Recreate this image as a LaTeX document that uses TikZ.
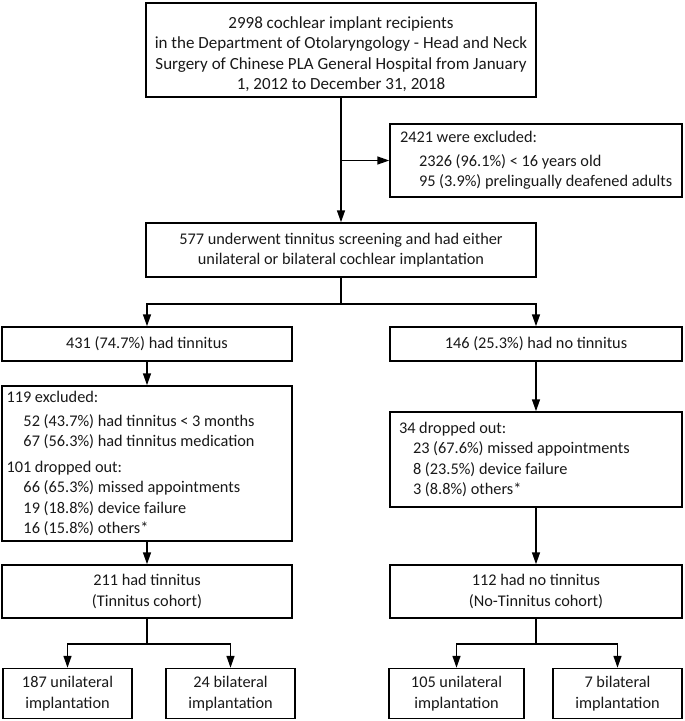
\documentclass[tikz,border=0pt]{standalone}
\usepackage{fontspec}
\setmainfont{Carlito}
\usetikzlibrary{arrows.meta,calc}
\newcommand\myind[1]{\hspace*{#1}}
\begin{document}
\begin{tikzpicture}[x=1pt,y=-1pt,
  font=\fontsize{16.3}{20.5}\selectfont,
  box/.style={draw=black, line width=1.5pt, inner sep=0pt, align=center, text=black!90},
  lbox/.style={box, align=flush left},
  plain/.style={inner sep=0pt, align=center, text=black!90},
  ln/.style={line width=1.5pt, draw=black},
  arr/.style={ln, -{Triangle[length=12pt,width=8pt]}}]
\useasboundingbox[fill=white] (0,0) rectangle (685,721);

\node[box, minimum width=390pt, minimum height=94pt] (top) at (341,50) {};
\node[plain, font=\fontsize{17}{20.5}\selectfont] (toptext) at ($(top.center)+(0,4)$)
  {2998 cochlear implant recipients\\
   in the Department of Otolaryngology - Head and Neck\\
   Surgery of Chinese PLA General Hospital from January\\
   1, 2012 to December 31, 2018};

\node[lbox, minimum width=292pt, minimum height=73pt, text width=272pt, inner xsep=10pt] (excl) at (536,160.5)
  {2421 were excluded:\\[3pt]
   \myind{19pt}\mbox{2326 (96.1\%) < 16 years old}\\
   \myind{19pt}\mbox{95 (3.9\%) prelingually deafened adults}};

\node[box, minimum width=390pt, minimum height=54pt] (s577) at (341,250)
  {577 underwent tinnitus screening and had either\\
   unilateral or bilateral cochlear implantation};

\node[box, minimum width=290pt, minimum height=34pt] (t431) at (147,344)
  {431 (74.7\%) had tinnitus};
\node[box, minimum width=292pt, minimum height=34pt] (n146) at (536,344)
  {146 (25.3\%) had no tinnitus};

\node[lbox, minimum width=290pt, minimum height=155pt, text width=281pt, inner xsep=4.5pt] (ex119) at (147,463.5)
  {119 excluded:\\[3pt]
   \myind{17pt}\mbox{52 (43.7\%) had tinnitus < 3 months}\\
   \myind{17pt}\mbox{67 (56.3\%) had tinnitus medication}\\[5pt]
   101 dropped out:\\
   \myind{17pt}\mbox{66 (65.3\%) missed appointments}\\
   \myind{17pt}\mbox{19 (18.8\%) device failure}\\
   \myind{17pt}\mbox{16 (15.8\%) others*}};

\node[lbox, minimum width=292pt, minimum height=95pt, text width=274pt, inner xsep=9pt] (dr34) at (536,459.5)
  {34 dropped out:\\
   \myind{14pt}\mbox{23 (67.6\%) missed appointments}\\
   \myind{14pt}\mbox{8 (23.5\%) device failure}\\
   \myind{14pt}\mbox{3 (8.8\%) others*}};

\node[box, minimum width=290pt, minimum height=53pt] (c211) at (147,591.5)
  {211 had tinnitus\\(Tinnitus cohort)};
\node[box, minimum width=292pt, minimum height=53pt] (c112) at (536,591.5)
  {112 had no tinnitus\\(No-Tinnitus cohort)};

\node[box, minimum width=129pt, minimum height=50pt] (b187) at (67.5,693.5)
  {187 unilateral\\implantation};
\node[box, minimum width=129pt, minimum height=50pt] (b24) at (230.5,693.5)
  {24 bilateral\\implantation};
\node[box, minimum width=135pt, minimum height=50pt] (b105) at (456.5,693.5)
  {105 unilateral\\implantation};
\node[box, minimum width=129pt, minimum height=50pt] (b7) at (617.5,693.5)
  {7 bilateral\\implantation};

% connectors
\draw[arr] (top.south) -- (s577.north);
\coordinate (j1) at (top.south |- excl.west);
\draw[arr] (j1) -- (excl.west);

\coordinate (sp1) at ($(s577.south)+(0,26)$);
\draw[ln] (s577.south) -- (sp1);
\draw[arr] (sp1) -| (t431.north);
\draw[arr] (sp1) -| (n146.north);

\draw[arr] (t431.south) -- (ex119.north);
\draw[arr] (n146.south) -- (dr34.north);
\draw[arr] (ex119.south) -- (c211.north);
\draw[arr] (dr34.south) -- (c112.north);

\coordinate (sp2) at ($(c211.south)+(0,25)$);
\draw[ln] (c211.south) -- (sp2);
\draw[arr] (sp2) -| (b187.north);
\draw[arr] (sp2) -| (b24.north);

\coordinate (sp3) at ($(c112.south)+(0,25)$);
\draw[ln] (c112.south) -- (sp3);
\draw[arr] (sp3) -| (b105.north);
\draw[arr] (sp3) -| (b7.north);
\end{tikzpicture}
\end{document}
